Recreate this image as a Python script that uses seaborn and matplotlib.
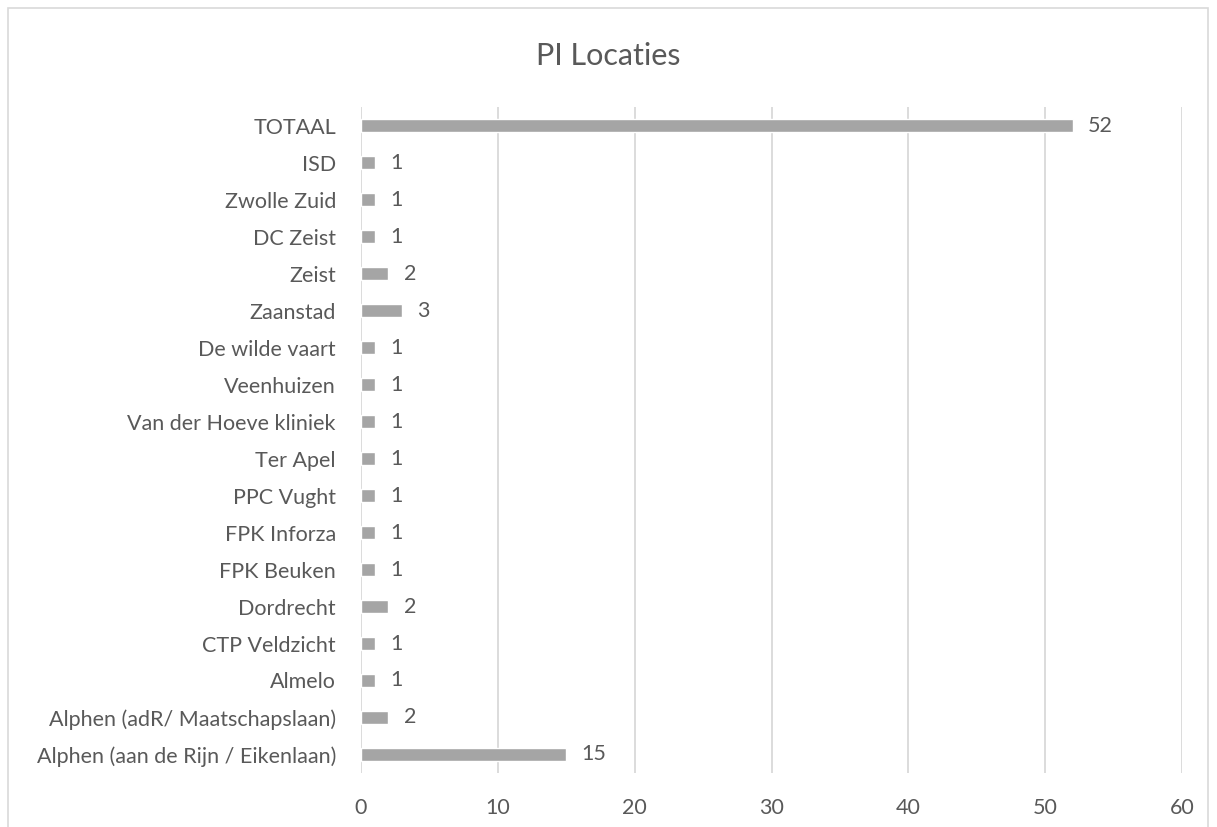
#!/usr/bin/env python3

import matplotlib

matplotlib.use("Agg")
import matplotlib.pyplot as plt
import pandas as pd
import seaborn as sns
from matplotlib.patches import Rectangle

locations = [
    "TOTAAL",
    "ISD",
    "Zwolle Zuid",
    "DC Zeist",
    "Zeist",
    "Zaanstad",
    "De wilde vaart",
    "Veenhuizen",
    "Van der Hoeve kliniek",
    "Ter Apel",
    "PPC Vught",
    "FPK Inforza",
    "FPK Beuken",
    "Dordrecht",
    "CTP Veldzicht",
    "Almelo",
    "Alphen (adR/ Maatschapslaan)",
    "Alphen (aan de Rijn / Eikenlaan)",
]
counts = [52, 1, 1, 1, 2, 3, 1, 1, 1, 1, 1, 1, 1, 2, 1, 1, 2, 15]
x_ticks = [0, 10, 20, 30, 40, 50, 60]

TEXT = "#595959"
GRID = "#D9D9D9"
BAR = "#A5A5A5"


def main():
    sns.set_style("white")
    plt.rcParams["font.family"] = ["Lato", "DejaVu Sans"]

    df = pd.DataFrame({"location": locations, "count": counts})

    fig = plt.figure(figsize=(12.17, 8.27), dpi=100)
    ax = fig.add_axes([0.2966, 0.0653, 0.6747, 0.8053])

    sns.barplot(data=df, x="count", y="location", orient="h", color=BAR,
                saturation=1, width=0.35, ax=ax)

    ax.set_xlim(0, 60)
    ax.set_xticks(x_ticks)
    ax.xaxis.grid(True, color=GRID, linewidth=1.3)
    ax.set_axisbelow(True)
    for s in ax.spines.values():
        s.set_visible(False)
    ax.tick_params(axis="both", length=0, labelsize=15.5, colors=TEXT)
    ax.tick_params(axis="x", pad=18)
    ax.tick_params(axis="y", pad=18)
    ax.set_xlabel("")
    ax.set_ylabel("")

    for container in ax.containers:
        ax.bar_label(container, padding=11, fontsize=15.5, color=TEXT)

    fig.text(0.5, 0.932, "PI Locaties", ha="center", va="center",
             fontsize=22, color=TEXT)

    fig.patches.append(Rectangle((8 / 1217, -0.05), 1 - 17 / 1217, 1.05 - 8 / 827,
                                 transform=fig.transFigure, fill=False,
                                 edgecolor=GRID, linewidth=1.2))

    fig.savefig("out.png", dpi=100)


if __name__ == "__main__":
    main()
